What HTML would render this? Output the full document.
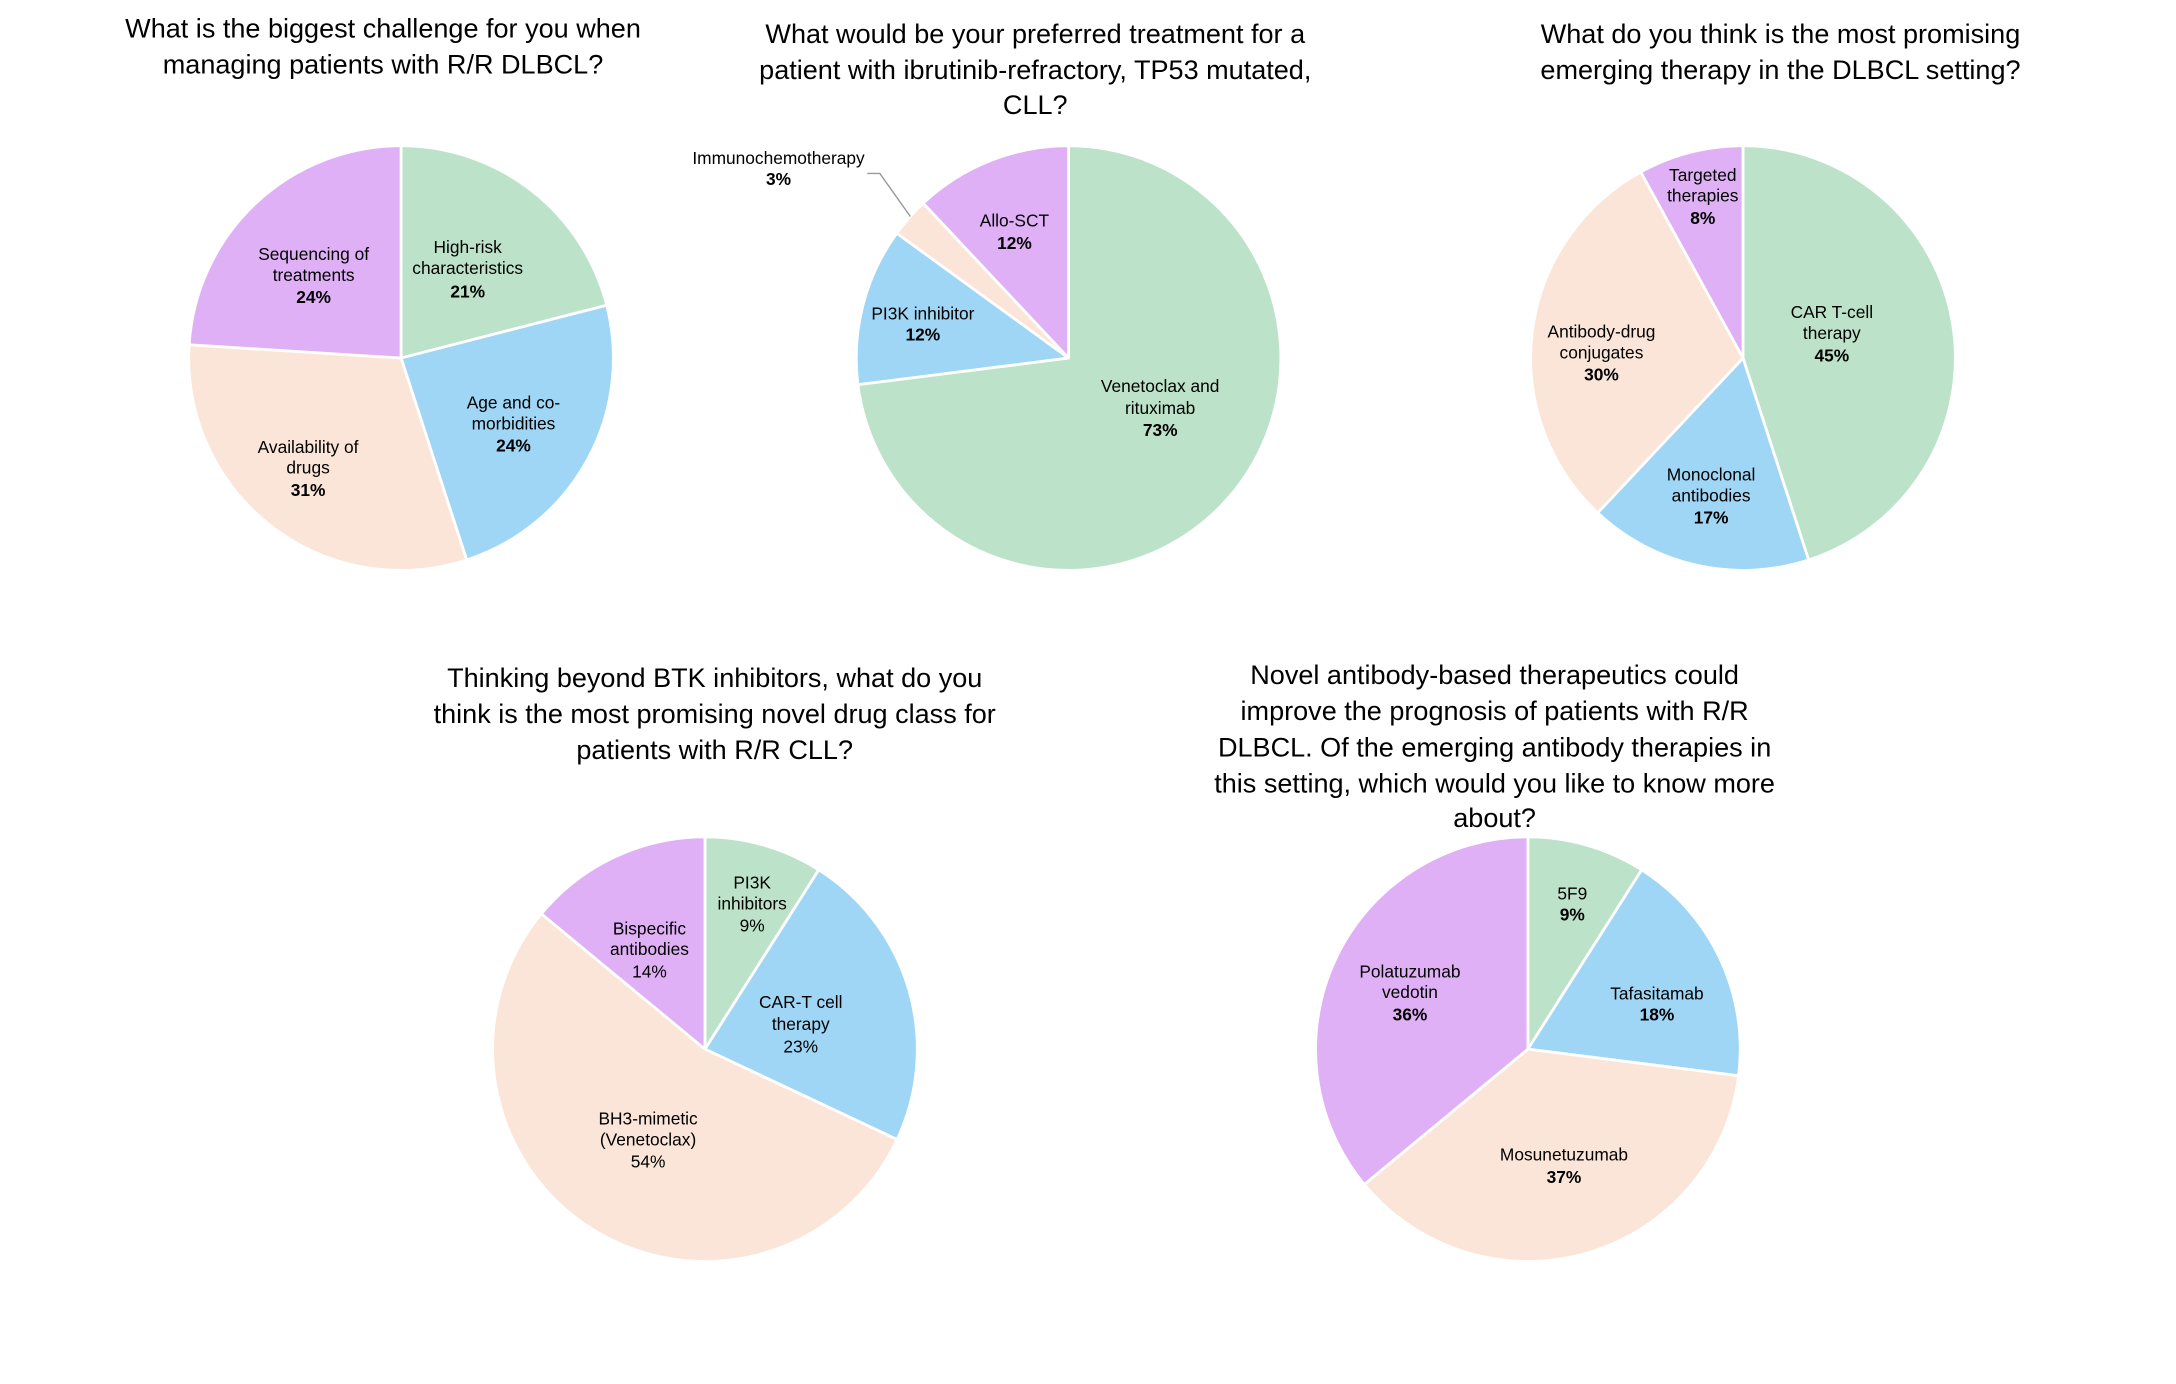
<!DOCTYPE html>
<html><head><meta charset="utf-8"><style>
html,body{margin:0;padding:0;background:#fff}
svg{display:block}
text{font-family:"Liberation Sans",Arial,sans-serif;fill:#000}
.t{font-size:19.5px;text-anchor:middle}
.l{font-size:12.5px;text-anchor:middle;dominant-baseline:central}
.b{font-weight:bold}
</style></head><body>
<svg id="s" width="2176" height="1384" viewBox="0 0 1568 997.3" xmlns="http://www.w3.org/2000/svg">
<g id="pies"></g>
<text class="t" x="276" y="27">What is the biggest challenge for you when</text>
<text class="t" x="276" y="53">managing patients with R/R DLBCL?</text>
<text class="t" x="746" y="31">What would be your preferred treatment for a</text>
<text class="t" x="746" y="57">patient with ibrutinib-refractory, TP53 mutated,</text>
<text class="t" x="746" y="82">CLL?</text>
<text class="t" x="1283" y="31">What do you think is the most promising</text>
<text class="t" x="1283" y="57">emerging therapy in the DLBCL setting?</text>
<text class="t" x="515" y="495">Thinking beyond BTK inhibitors, what do you</text>
<text class="t" x="515" y="521">think is the most promising novel drug class for</text>
<text class="t" x="515" y="547">patients with R/R CLL?</text>
<text class="t" x="1077" y="493">Novel antibody-based therapeutics could</text>
<text class="t" x="1077" y="519">improve the prognosis of patients with R/R</text>
<text class="t" x="1077" y="545">DLBCL. Of the emerging antibody therapies in</text>
<text class="t" x="1077" y="571">this setting, which would you like to know more</text>
<text class="t" x="1077" y="596">about?</text>

<text class="l" x="337" y="178">High-risk</text><text class="l" x="337" y="193">characteristics</text><text class="l b" x="337" y="210">21%</text>
<text class="l" x="370" y="290">Age and co-</text><text class="l" x="370" y="305">morbidities</text><text class="l b" x="370" y="321">24%</text>
<text class="l" x="222" y="322">Availability of</text><text class="l" x="222" y="337">drugs</text><text class="l b" x="222" y="353">31%</text>
<text class="l" x="226" y="183">Sequencing of</text><text class="l" x="226" y="198">treatments</text><text class="l b" x="226" y="214">24%</text>

<text class="l" x="731" y="159">Allo-SCT</text><text class="l b" x="731" y="175">12%</text>
<text class="l" x="665" y="226">PI3K inhibitor</text><text class="l b" x="665" y="241">12%</text>
<text class="l" x="836" y="278">Venetoclax and</text><text class="l" x="836" y="294">rituximab</text><text class="l b" x="836" y="310">73%</text>
<text class="l" x="561" y="114">Immunochemotherapy</text><text class="l b" x="561" y="129">3%</text>
<polyline points="625,125 634,125 656,156" fill="none" stroke="#999" stroke-width="1"/>

<text class="l" x="1227" y="126">Targeted</text><text class="l" x="1227" y="141">therapies</text><text class="l b" x="1227" y="157">8%</text>
<text class="l" x="1320" y="225">CAR T-cell</text><text class="l" x="1320" y="240">therapy</text><text class="l b" x="1320" y="256">45%</text>
<text class="l" x="1154" y="239">Antibody-drug</text><text class="l" x="1154" y="254">conjugates</text><text class="l b" x="1154" y="270">30%</text>
<text class="l" x="1233" y="342">Monoclonal</text><text class="l" x="1233" y="357">antibodies</text><text class="l b" x="1233" y="373">17%</text>

<text class="l" x="542" y="636">PI3K</text><text class="l" x="542" y="651">inhibitors</text><text class="l" x="542" y="667">9%</text>
<text class="l" x="577" y="722">CAR-T cell</text><text class="l" x="577" y="738">therapy</text><text class="l" x="577" y="754">23%</text>
<text class="l" x="467" y="806">BH3-mimetic</text><text class="l" x="467" y="821">(Venetoclax)</text><text class="l" x="467" y="837">54%</text>
<text class="l" x="468" y="669">Bispecific</text><text class="l" x="468" y="684">antibodies</text><text class="l" x="468" y="700">14%</text>

<text class="l" x="1133" y="644">5F9</text><text class="l b" x="1133" y="659">9%</text>
<text class="l" x="1194" y="716">Tafasitamab</text><text class="l b" x="1194" y="731">18%</text>
<text class="l" x="1127" y="832">Mosunetuzumab</text><text class="l b" x="1127" y="848">37%</text>
<text class="l" x="1016" y="700">Polatuzumab</text><text class="l" x="1016" y="715">vedotin</text><text class="l b" x="1016" y="731">36%</text>
</svg>
<script>
var C=["#bce3c9","#a0d6f5","#fae5d8","#dfb0f5"];
var P=[[289,258,[21,24,31,24]],[770,258,[73,12,3,12]],[1256,258,[45,17,30,8]],[508,756,[9,23,54,14]],[1101,756,[9,18,37,36]]];
var r=153,h="";
P.forEach(function(p){var cx=p[0],cy=p[1],v=p[2],t=v.reduce(function(a,b){return a+b},0),a=0;
v.forEach(function(x,i){var a0=a/t*2*Math.PI;a+=x;var a1=a/t*2*Math.PI;
var x0=cx+r*Math.sin(a0),y0=cy-r*Math.cos(a0),x1=cx+r*Math.sin(a1),y1=cy-r*Math.cos(a1);
h+='<path d="M'+cx+','+cy+'L'+x0+','+y0+'A'+r+','+r+' 0 '+((a1-a0)>Math.PI?1:0)+' 1 '+x1+','+y1+'Z" fill="'+C[i]+'" stroke="#fff" stroke-width="2" stroke-linejoin="round"/>';});});
document.getElementById("pies").innerHTML=h;
</script>
</body></html>
